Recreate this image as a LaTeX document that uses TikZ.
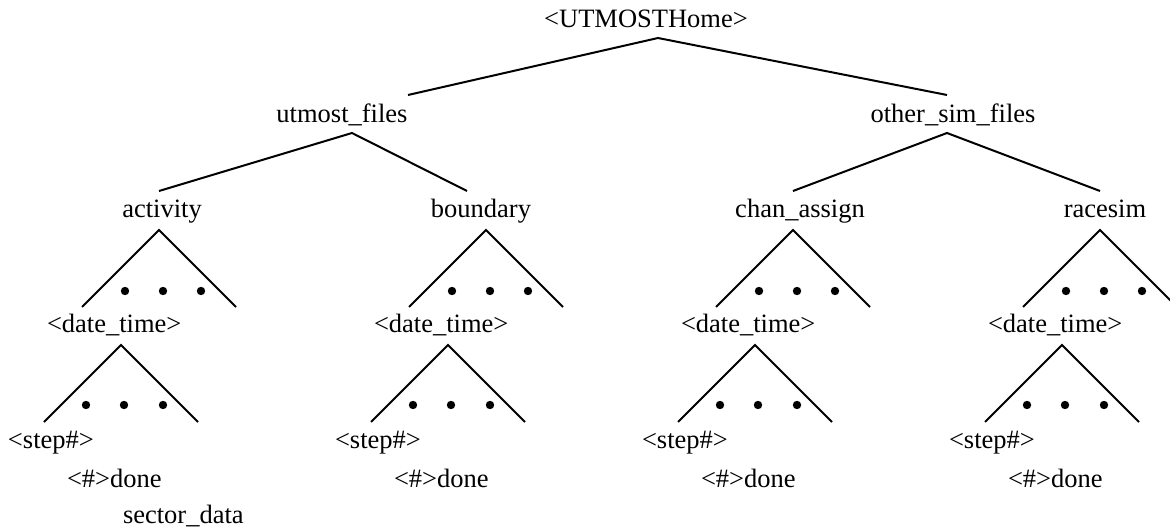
\documentclass[tikz,border=0pt]{standalone}
\usepackage{fontspec}
\setmainfont{Liberation Serif}
\begin{document}
\begin{tikzpicture}[x=1pt,y=-1pt,
  every node/.style={inner sep=0pt,outer sep=0pt,font=\fontsize{26.5}{30}\selectfont},
  lbl/.style={anchor=base},
  lblw/.style={anchor=base west},
  branch/.style={line width=2pt,line cap=butt},
  elide/.style={fill=black}]
\useasboundingbox (0,0) rectangle (1170,529);

% root and the two top-level folders
\node[lbl] (home) at (646,28) {<UTMOSTHome>};
\node[lbl] (ufiles) at (342,123) {utmost\_files};
\node[lbl] (ofiles) at (953,123) {other\_sim\_files};
\coordinate (homeT) at (658,38);
\coordinate (ufT) at (408,95);
\coordinate (ofT) at (947,95);
\draw[branch] (ufT) -- (homeT) -- (ofT);

% second level folders
\node[lbl] (activity) at (162,218) {activity};
\node[lbl] (boundary) at (481,218) {boundary};
\node[lbl] (chan) at (800,218) {chan\_assign};
\node[lbl] (racesim) at (1105,218) {racesim};

\coordinate (ufB) at (352,133);
\coordinate (ofB) at (947,133);
\coordinate (actT) at (159,191);
\coordinate (bndT) at (467,191);
\coordinate (chnT) at (793,191);
\coordinate (rcsT) at (1100,191);
\draw[branch] (actT) -- (ufB) -- (bndT);
\draw[branch] (chnT) -- (ofB) -- (rcsT);

% each folder holds date_time runs, each run holds step folders
\foreach \A/\n in {159/act,486/bnd,793/chn,1100/rcs}{
  \coordinate (\n-a1) at (\A,230);
  \coordinate (\n-l1) at (\A-77,307);
  \coordinate (\n-r1) at (\A+77,307);
  \draw[branch] (\n-l1) -- (\n-a1) -- (\n-r1);
  \foreach \d in {-34,4,42}{ \fill[elide] (\A+\d,291) circle (4.2); }
  \node[lblw] (\n-date) at (\A-112,333) {<date\_time>};
  \coordinate (\n-a2) at (\A-38,345);
  \coordinate (\n-l2) at (\A-115,422);
  \coordinate (\n-r2) at (\A+39,422);
  \draw[branch] (\n-l2) -- (\n-a2) -- (\n-r2);
  \foreach \d in {-73,-35,4}{ \fill[elide] (\A+\d,405) circle (4.2); }
  \node[lblw] (\n-step) at (\A-151,448) {<step\#>};
  \node[lblw] (\n-done) at (\A-92,487) {<\#>done};
}
\node[lblw] (sector) at (123,523) {sector\_data};
\end{tikzpicture}
\end{document}
